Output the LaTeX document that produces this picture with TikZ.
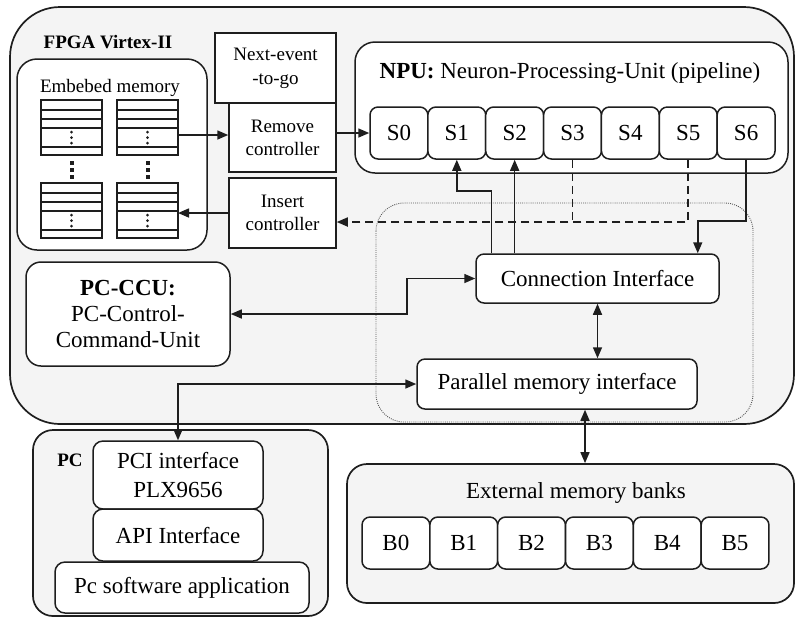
\documentclass[tikz,border=0pt]{standalone}
\usepackage{fontspec}
\setmainfont{Liberation Serif}
\usetikzlibrary{arrows.meta,calc}
\definecolor{bggray}{HTML}{F4F4F4}
\definecolor{ink}{HTML}{1E1E1E}
\newcommand\memblk[2]{%
  \draw[line width=0.65pt, draw=ink, fill=white] (#1,#2) rectangle ++(61,55);
  \foreach \d in {10,19,28,47} \draw[line width=0.65pt, draw=ink] (#1,#2+\d) -- ++(61,0);
  \foreach \d in {32,37.5,43} \fill[ink] (#1+30.5,#2+\d) circle (0.75pt);
}
\begin{document}
\begin{tikzpicture}[x=0.5pt,y=-0.5pt,
  box/.style={draw=ink, line width=0.75pt, fill=white, inner sep=0pt, align=center,
    font=\fontsize{11.5}{13.5}\selectfont},
  smallbox/.style={box, font=\fontsize{9.5}{11.5}\selectfont},
  rbox/.style={box, rounded corners=4pt},
  group/.style={draw=ink, line width=0.85pt, fill=bggray, inner sep=0pt},
  lbl/.style={inner sep=0pt, font=\fontsize{11.5}{13.5}\selectfont},
  smalllbl/.style={inner sep=0pt, font=\fontsize{9.5}{11.5}\selectfont},
  boldlbl/.style={inner sep=0pt, font=\bfseries\fontsize{9.5}{11.5}\selectfont},
  conn/.style={draw=ink, line width=0.75pt},
  arr/.style={conn, -{Triangle[length=5.5pt,width=4.5pt]}},
  darr/.style={conn, {Triangle[length=5.5pt,width=4.5pt]}-{Triangle[length=5.5pt,width=4.5pt]}},
  dsh/.style={conn, line width=0.85pt, dash pattern=on 4pt off 2.5pt}
]
\useasboundingbox (0,0) rectangle (795,618);

% FPGA group
\node[group, rounded corners=25pt, minimum width=392pt, minimum height=208.5pt] (fpga) at (402,215.5) {};
\node[boldlbl] (fpgalabel) at (108,42) {FPGA Virtex-II};

% Embedded memory
\node[box, rounded corners=10pt, minimum width=95pt, minimum height=95.5pt] (mem) at (112,154.5) {};
\node[smalllbl] (memlabel) at (110,88) {Embebed memory};
\memblk{41}{100}
\memblk{117}{100}
\memblk{41}{183}
\memblk{117}{183}
\foreach \x in {72,148} \foreach \y in {163,170,177}
  \fill[ink] (\x-1.6,\y-2) rectangle ++(3.2,4);
\coordinate (memR1) at (178,135);
\coordinate (memR2) at (178,213);

% controllers
\node[smallbox, minimum width=60.5pt, minimum height=35pt] (next) at (275.5,68) {Next-event\\[0.5pt]-to-go};
\node[smallbox, minimum width=53.5pt, minimum height=34.5pt] (remove) at (282.5,137.5) {Remove\\controller};
\node[smallbox, minimum width=53.5pt, minimum height=35pt] (insert) at (282.5,213) {Insert\\controller};

% NPU
\node[box, rounded corners=10pt, minimum width=216.5pt, minimum height=65.5pt] (npu) at (571.5,107.5) {};
\node[lbl] (nputitle) at (570,73) {\textbf{NPU:} Neuron-Processing-Unit (pipeline)};
\foreach \i in {0,...,6}
  \node[rbox, minimum width=28.93pt, minimum height=26pt] (S\i) at (398.93+57.86*\i,133) {S\i};

% dotted region
\draw[ink!75, line width=0.45pt, dash pattern=on 0.45pt off 0.6pt, rounded corners=14pt] (376,203) rectangle (753,422);
\node[rbox, minimum width=121.5pt, minimum height=24.5pt] (conn) at (597.5,278.5) {Connection Interface};
\node[rbox, minimum width=140pt, minimum height=25pt] (pmi) at (557,384) {Parallel memory interface};

% PC-CCU
\node[box, rounded corners=7.5pt, minimum width=102pt, minimum height=52pt, font=\fontsize{11.5}{13}\selectfont] (pcccu) at (128,314) {\textbf{PC-CCU:}\\PC-Control-\\Command-Unit};

% PC group
\node[group, rounded corners=10pt, minimum width=147.5pt, minimum height=93pt] (pc) at (180.5,523) {};
\node[boldlbl] (pclabel) at (70,460) {PC};
\node[box, rounded corners=5pt, minimum width=85pt, minimum height=34pt, font=\fontsize{11.5}{14.5}\selectfont] (pci) at (178,475) {PCI interface\\PLX9656};
\node[box, rounded corners=5pt, minimum width=85pt, minimum height=26pt] (api) at (178,535) {API Interface};
\node[box, rounded corners=5pt, minimum width=127pt, minimum height=25.5pt] (soft) at (182,587.5) {Pc software application};

% External memory banks
\node[group, rounded corners=10pt, minimum width=223.5pt, minimum height=69.5pt] (ext) at (570.5,533.5) {};
\node[lbl] (extlabel) at (576,493) {External memory banks};
\foreach \i in {0,...,5}
  \node[rbox, minimum width=33.9pt, minimum height=26pt] (B\i) at (395.9+67.83*\i,543) {B\i};

% connectors
\coordinate (dashY) at (0,222);
\coordinate (bendA) at (407,0);
\draw[arr] (memR1) -- (memR1 -| remove.west);
\draw[arr] (S0.west -| remove.east) -- (S0.west);
\draw[arr] (insert.west |- memR2) -- (memR2);
\draw[dsh, -{Triangle[length=5.5pt,width=4.5pt]}] (S5.south) -- (S5.south |- dashY) -- (insert.east |- dashY);
\draw[dsh] (S3.south) -- (S3.south |- dashY);
\draw[arr] ([xshift=8pt]conn.north west) |- ([yshift=-15.5pt]S1.south) -- (S1.south);
\draw[arr] (conn.north -| S2.south) -- (S2.south);
\draw[arr] (S6.south) -- ++(0,61) -| ([xshift=-11pt]conn.north east);
\draw[darr] (pcccu.east) -| (bendA |- conn.west) -- (conn.west);
\draw[darr] (pci.north) |- (pmi.west);
\draw[darr] (conn.south) -- (conn.south |- pmi.north);
\draw[darr] ([xshift=14pt]pmi.south) -- ([xshift=14pt]pmi.south |- ext.north);
\end{tikzpicture}
\end{document}
